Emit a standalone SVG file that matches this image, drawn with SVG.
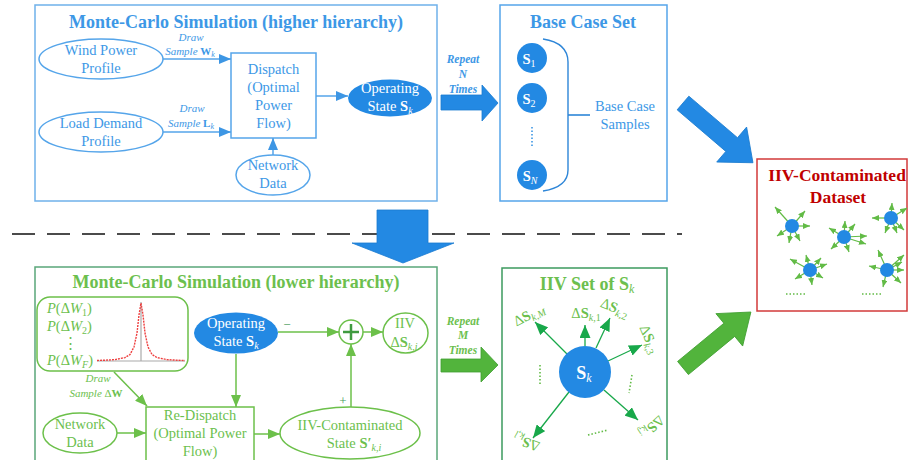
<svg xmlns="http://www.w3.org/2000/svg" width="912" height="460" viewBox="0 0 912 460">
<style>
text{font-family:"Liberation Serif","Times New Roman",serif;}
.bt{fill:#3d98e6;font-size:14.5px;}
.gt{fill:#6cbf4e;font-size:14.5px;}
.wt{fill:#ffffff;font-size:14.5px;}
.ttl{font-weight:bold;font-size:18px;}
.sm{font-size:11px;font-style:italic;}
.bl{stroke:#55a5ea;stroke-width:1.5;fill:none;}
.gl{stroke:#6cc04a;stroke-width:1.5;fill:none;}
.bnode{fill:#ffffff;stroke:#55a5ea;stroke-width:1.5;}
.gnode{fill:#ffffff;stroke:#6cc04a;stroke-width:1.5;}
.bfill{fill:#2389e3;}
.da{stroke:#18a84a;stroke-width:1.3;fill:none;}
.sa{stroke:#62bb46;stroke-width:1.2;fill:none;}
</style>
<defs>
<marker id="ab" markerWidth="12" markerHeight="10" refX="12" refY="5" orient="auto" markerUnits="userSpaceOnUse"><path d="M0,0 L12,5 L0,10 Z" fill="#3d96e4"/></marker>
<marker id="ag" markerWidth="12" markerHeight="10" refX="12" refY="5" orient="auto" markerUnits="userSpaceOnUse"><path d="M0,0 L12,5 L0,10 Z" fill="#6cc04a"/></marker>
<marker id="ad" markerWidth="13" markerHeight="11" refX="13" refY="5.5" orient="auto" markerUnits="userSpaceOnUse"><path d="M0,0 L13,5.5 L0,11 Z" fill="#18a84a"/></marker>
<marker id="as" markerWidth="7" markerHeight="6" refX="7" refY="3" orient="auto" markerUnits="userSpaceOnUse"><path d="M0,0 L7,3 L0,6 Z" fill="#62bb46"/></marker>
</defs>

<!-- separator -->
<line x1="12" y1="234" x2="682" y2="234" stroke="#111" stroke-width="1.5" stroke-dasharray="23 12"/>

<!-- Upper container -->
<g id="upper-box">
<rect x="35" y="5" width="402" height="196" fill="#fff" stroke="#6fb1ea" stroke-width="1.5"/>
<text class="bt ttl" x="236" y="28" text-anchor="middle">Monte-Carlo Simulation (higher hierarchy)</text>
</g>
<g id="wind">
<ellipse class="bnode" cx="101" cy="59" rx="62" ry="20"/>
<text class="bt" x="101" y="55" text-anchor="middle">Wind Power</text>
<text class="bt" x="101" y="73" text-anchor="middle">Profile</text>
</g>
<g id="load">
<ellipse class="bnode" cx="101" cy="132" rx="62" ry="20"/>
<text class="bt" x="101" y="128" text-anchor="middle">Load Demand</text>
<text class="bt" x="101" y="146" text-anchor="middle">Profile</text>
</g>
<g id="dispatch">
<rect class="bnode" x="231" y="53" width="85" height="85"/>
<text class="bt" x="273.5" y="74" text-anchor="middle">Dispatch</text>
<text class="bt" x="273.5" y="92" text-anchor="middle">(Optimal</text>
<text class="bt" x="273.5" y="110" text-anchor="middle">Power</text>
<text class="bt" x="273.5" y="128" text-anchor="middle">Flow)</text>
</g>
<g id="network-top">
<ellipse class="bnode" cx="273" cy="175" rx="37" ry="20"/>
<text class="bt" x="273" y="170" text-anchor="middle">Network</text>
<text class="bt" x="273" y="188" text-anchor="middle">Data</text>
</g>
<g id="opstate-top">
<ellipse class="bfill" cx="390" cy="98" rx="42" ry="18.5"/>
<text class="wt" x="390" y="93" text-anchor="middle">Operating</text>
<text class="wt" x="390" y="111" text-anchor="middle">State <tspan font-weight="bold">S</tspan><tspan font-style="italic" font-size="10" dy="3">k</tspan></text>
</g>

<!-- Base case set -->
<g id="base-case-set">
<rect x="500" y="5" width="167" height="196" fill="#fff" stroke="#55a5ea" stroke-width="1.5"/>
<text class="bt ttl" x="583" y="28" text-anchor="middle">Base Case Set</text>
<circle class="bfill" cx="532" cy="58" r="15"/>
<text class="wt" x="529" y="64" text-anchor="middle" font-size="15"><tspan font-weight="bold">S</tspan><tspan font-size="10" dy="3">1</tspan></text>
<circle class="bfill" cx="532" cy="98" r="15"/>
<text class="wt" x="529" y="104" text-anchor="middle" font-size="15"><tspan font-weight="bold">S</tspan><tspan font-size="10" dy="3">2</tspan></text>
<line x1="532" y1="127" x2="532" y2="146" stroke="#3d96e4" stroke-width="1.6" stroke-dasharray="1.5 2"/>
<circle class="bfill" cx="532" cy="175" r="15"/>
<text class="wt" x="530" y="181" text-anchor="middle" font-size="15"><tspan font-weight="bold">S</tspan><tspan font-size="10" font-style="italic" dy="3">N</tspan></text>
<path d="M543,39 Q568,43 568,62 L568,170 Q568,187 543,191" fill="none" stroke="#2e86d8" stroke-width="1.4"/>
<line x1="568" y1="115" x2="590" y2="115" stroke="#2e86d8" stroke-width="1.6"/>
<text class="bt" x="625" y="111" text-anchor="middle">Base Case</text>
<text class="bt" x="625" y="129" text-anchor="middle">Samples</text>
</g>

<!-- Dataset -->
<g id="dataset">
<rect x="757" y="159" width="150" height="152" fill="#fff" stroke="#d23a3a" stroke-width="1.5"/>
<text x="837" y="181" text-anchor="middle" font-size="17.5" font-weight="bold" fill="#c00000">IIV-Contaminated</text>
<text x="838" y="203" text-anchor="middle" font-size="17.5" font-weight="bold" fill="#c00000">Dataset</text>
<g marker-end="url(#as)">
<line class="sa" x1="792" y1="226" x2="775" y2="207"/>
<line class="sa" x1="792" y1="226" x2="805" y2="211"/>
<line class="sa" x1="792" y1="226" x2="810" y2="226"/>
<line class="sa" x1="792" y1="226" x2="789" y2="243"/>
<line class="sa" x1="792" y1="226" x2="777" y2="236"/>
<line class="sa" x1="792" y1="226" x2="800" y2="241"/>
<line class="sa" x1="844" y1="237" x2="829" y2="228"/>
<line class="sa" x1="844" y1="237" x2="845" y2="221"/>
<line class="sa" x1="844" y1="237" x2="855" y2="224"/>
<line class="sa" x1="844" y1="237" x2="867" y2="236"/>
<line class="sa" x1="844" y1="237" x2="866" y2="244"/>
<line class="sa" x1="844" y1="237" x2="849" y2="252"/>
<line class="sa" x1="844" y1="237" x2="831" y2="249"/>
<line class="sa" x1="891" y1="218" x2="872" y2="218"/>
<line class="sa" x1="891" y1="218" x2="907" y2="208"/>
<line class="sa" x1="891" y1="218" x2="892" y2="203"/>
<line class="sa" x1="891" y1="218" x2="904" y2="230"/>
<line class="sa" x1="891" y1="218" x2="897" y2="233"/>
<line class="sa" x1="891" y1="218" x2="885" y2="233"/>
<line class="sa" x1="810" y1="270" x2="790" y2="259"/>
<line class="sa" x1="810" y1="270" x2="806" y2="255"/>
<line class="sa" x1="810" y1="270" x2="821" y2="258"/>
<line class="sa" x1="810" y1="270" x2="827" y2="264"/>
<line class="sa" x1="810" y1="270" x2="823" y2="278"/>
<line class="sa" x1="810" y1="270" x2="812" y2="285"/>
<line class="sa" x1="810" y1="270" x2="795" y2="279"/>
<line class="sa" x1="887" y1="270" x2="878" y2="250"/>
<line class="sa" x1="887" y1="270" x2="904" y2="255"/>
<line class="sa" x1="887" y1="270" x2="869" y2="266"/>
<line class="sa" x1="887" y1="270" x2="904" y2="270"/>
<line class="sa" x1="887" y1="270" x2="901" y2="283"/>
<line class="sa" x1="887" y1="270" x2="883" y2="287"/>
<line class="sa" x1="887" y1="270" x2="902" y2="262"/>
</g>
<circle class="bfill" cx="792" cy="226" r="7"/>
<circle class="bfill" cx="844" cy="237" r="7"/>
<circle class="bfill" cx="891" cy="218" r="7"/>
<circle class="bfill" cx="810" cy="270" r="7"/>
<circle class="bfill" cx="887" cy="270" r="7"/>
<line x1="786" y1="294" x2="807" y2="294" stroke="#62bb46" stroke-width="1.5" stroke-dasharray="1.5 2"/>
<line x1="862" y1="294" x2="883" y2="294" stroke="#62bb46" stroke-width="1.5" stroke-dasharray="1.5 2"/>
</g>

<!-- Lower container -->
<g id="lower-box">
<rect x="35" y="267" width="402" height="205" fill="#fff" stroke="#5aa77a" stroke-width="1.5"/>
<text class="gt ttl" x="236" y="288" text-anchor="middle">Monte-Carlo Simulation (lower hierarchy)</text>
</g>
<g id="distribution">
<rect class="gnode" x="37" y="297" width="151" height="74" rx="13"/>
<text class="gt" x="47" y="313" font-style="italic">P<tspan font-style="normal">(Δ</tspan>W<tspan font-style="normal" font-size="10" dy="3">1</tspan><tspan font-style="normal" dy="-3">)</tspan></text>
<text class="gt" x="47" y="331" font-style="italic">P<tspan font-style="normal">(Δ</tspan>W<tspan font-style="normal" font-size="10" dy="3">2</tspan><tspan font-style="normal" dy="-3">)</tspan></text>
<text class="gt" x="70" y="348" text-anchor="middle">⋮</text>
<text class="gt" x="47" y="365" font-style="italic">P<tspan font-style="normal">(Δ</tspan>W<tspan font-size="10" dy="3">F</tspan><tspan font-style="normal" dy="-3">)</tspan></text>
<line x1="97" y1="361" x2="185" y2="361" stroke="#aaa" stroke-width="1.2"/>
<line x1="141" y1="302" x2="141" y2="361" stroke="#aaa" stroke-width="1.2"/>
<path d="M97,360.5 L105,360.2 L115,359.6 L125,357.6 L130,354.5 L134,347 L137,333 L139,315 L141,303 L143,315 L145,333 L148,347 L152,354.5 L157,357.6 L167,359.6 L177,360.2 L185,360.5" fill="none" stroke="#ee4040" stroke-width="1.4" stroke-dasharray="2 1"/>
</g>
<g id="opstate-low">
<ellipse class="bfill" cx="236" cy="333" rx="42" ry="20.5"/>
<text class="wt" x="236" y="328" text-anchor="middle">Operating</text>
<text class="wt" x="236" y="346" text-anchor="middle">State <tspan font-weight="bold">S</tspan><tspan font-style="italic" font-size="10" dy="3">k</tspan></text>
</g>
<g id="sum">
<circle class="gnode" cx="351" cy="332" r="12"/>
<line x1="343" y1="332" x2="359" y2="332" stroke="#3f9a3f" stroke-width="2.5"/>
<line x1="351" y1="324" x2="351" y2="340" stroke="#3f9a3f" stroke-width="2.5"/>
</g>
<g id="iiv">
<ellipse class="gnode" cx="405.5" cy="333" rx="22.5" ry="20"/>
<text class="gt" x="405" y="328" text-anchor="middle">IIV</text>
<text class="gt" x="404" y="347" text-anchor="middle">Δ<tspan font-weight="bold">S</tspan><tspan font-style="italic" font-size="10" dy="3">k,i</tspan></text>
</g>
<g id="redispatch">
<rect class="gnode" x="146" y="407" width="108" height="65"/>
<text class="gt" x="200" y="420" text-anchor="middle">Re-Dispatch</text>
<text class="gt" x="200" y="438" text-anchor="middle">(Optimal Power</text>
<text class="gt" x="200" y="456" text-anchor="middle">Flow)</text>
</g>
<g id="network-low">
<ellipse class="gnode" cx="80" cy="433" rx="37" ry="20"/>
<text class="gt" x="80" y="429" text-anchor="middle">Network</text>
<text class="gt" x="80" y="447" text-anchor="middle">Data</text>
</g>
<g id="contaminated-state">
<ellipse class="gnode" cx="350" cy="433" rx="70" ry="26"/>
<text class="gt" x="350" y="430" text-anchor="middle">IIV-Contaminated</text>
<text class="gt" x="354" y="448" text-anchor="middle">State <tspan font-weight="bold">S′</tspan><tspan font-style="italic" font-size="10" dy="3">k,i</tspan></text>
</g>

<!-- IIV set -->
<g id="iiv-set">
<rect x="502" y="268" width="165" height="205" fill="#fff" stroke="#3d9a5f" stroke-width="1.5"/>
<text class="gt ttl" x="587" y="290" text-anchor="middle">IIV Set of <tspan>S</tspan><tspan font-style="italic" font-weight="normal" font-size="12" dy="3">k</tspan></text>
<g marker-end="url(#ad)">
<line class="da" x1="567" y1="354" x2="535" y2="322"/>
<line class="da" x1="585" y1="346" x2="585" y2="325"/>
<line class="da" x1="596" y1="348" x2="610" y2="318"/>
<line class="da" x1="608" y1="361" x2="642" y2="345"/>
<line class="da" x1="604" y1="390" x2="638" y2="420"/>
<line class="da" x1="569" y1="392" x2="533" y2="438"/>
</g>
<circle class="bfill" cx="585" cy="372" r="26"/>
<text x="584" y="379" text-anchor="middle" fill="#fff" font-size="18" font-weight="bold">S<tspan font-style="italic" font-weight="normal" font-size="12" dy="3">k</tspan></text>
<text class="gt" x="586" y="318" text-anchor="middle">Δ<tspan font-weight="bold">S</tspan><tspan font-style="italic" font-size="10" dy="3">k</tspan><tspan font-size="10">,1</tspan></text>
<g transform="translate(531,319) rotate(-27)"><text class="gt" x="0" y="0" text-anchor="middle">Δ<tspan font-weight="bold">S</tspan><tspan font-style="italic" font-size="10" dy="3">k,M</tspan></text></g>
<g transform="translate(613,312) rotate(22)"><text class="gt" x="0" y="0" text-anchor="middle">Δ<tspan font-weight="bold">S</tspan><tspan font-style="italic" font-size="10" dy="3">k</tspan><tspan font-size="10">,2</tspan></text></g>
<g transform="translate(645,341) rotate(67)"><text class="gt" x="0" y="0" text-anchor="middle">Δ<tspan font-weight="bold">S</tspan><tspan font-style="italic" font-size="10" dy="3">k</tspan><tspan font-size="10">,3</tspan></text></g>
<g transform="translate(649,424) rotate(137)"><text class="gt" x="0" y="0" text-anchor="middle">Δ<tspan font-weight="bold">S</tspan><tspan font-style="italic" font-size="10" dy="3">k,j</tspan></text></g>
<g transform="translate(528,438) rotate(200)"><text class="gt" x="0" y="0" text-anchor="middle">Δ<tspan font-weight="bold">S</tspan><tspan font-style="italic" font-size="10" dy="3">k,l</tspan></text></g>
<line x1="540" y1="365" x2="540" y2="385" stroke="#62bb46" stroke-width="1.6" stroke-dasharray="1.5 2"/>
<line x1="632" y1="375" x2="629" y2="393" stroke="#62bb46" stroke-width="1.6" stroke-dasharray="1.5 2"/>
<line x1="588" y1="435" x2="608" y2="430" stroke="#62bb46" stroke-width="1.6" stroke-dasharray="1.5 2"/>
</g>

<!-- Block arrows -->
<g id="block-arrows">
<polygon points="441,95 482,95 482,85 498,103 482,121 482,110 441,110" fill="#2389e3" stroke="#1a7bd0" stroke-width="0.8"/>
<text x="463" y="63" text-anchor="middle" font-size="11.5" font-weight="bold" font-style="italic" fill="#3d98e6">Repeat</text>
<text x="463" y="78" text-anchor="middle" font-size="11.5" font-weight="bold" font-style="italic" fill="#3d98e6">N</text>
<text x="463" y="93" text-anchor="middle" font-size="11.5" font-weight="bold" font-style="italic" fill="#3d98e6">Times</text>
<polygon points="441,359 481,359 481,347 498,365 481,382 481,372 441,372" fill="#52b43c" stroke="#3f9e30" stroke-width="0.8"/>
<text x="463" y="325" text-anchor="middle" font-size="11.5" font-weight="bold" font-style="italic" fill="#6cbf4e">Repeat</text>
<text x="463" y="339" text-anchor="middle" font-size="11.5" font-weight="bold" font-style="italic" fill="#6cbf4e">M</text>
<text x="463" y="354" text-anchor="middle" font-size="11.5" font-weight="bold" font-style="italic" fill="#6cbf4e">Times</text>
<polygon points="377,210 428,210 428,243 454,243 403,263 352,243 377,243" fill="#2389e3" stroke="#1a7bd0" stroke-width="0.8"/>
<polygon transform="translate(683,103) rotate(40.5)" points="0,-9 64,-9 64,-23 92,0 64,23 64,9 0,9" fill="#2389e3" stroke="#1a7bd0" stroke-width="0.8"/>
<polygon transform="translate(683,368) rotate(-39.5)" points="0,-8.5 60,-8.5 60,-21 88,0 60,21 60,8.5 0,8.5" fill="#52b43c" stroke="#3f9e30" stroke-width="0.8"/>
</g>

<!-- Connectors -->
<g id="connectors">
<line class="bl" x1="163" y1="59" x2="231" y2="59" marker-end="url(#ab)"/>
<line class="bl" x1="163" y1="132" x2="231" y2="132" marker-end="url(#ab)"/>
<line class="bl" x1="316" y1="96" x2="348" y2="96" marker-end="url(#ab)"/>
<line class="bl" x1="273" y1="155" x2="273" y2="138" marker-end="url(#ab)"/>
<text class="bt sm" x="191" y="41" text-anchor="middle">Draw</text>
<text class="bt sm" x="190" y="55" text-anchor="middle">Sample <tspan font-style="normal" font-weight="bold">W</tspan><tspan font-size="8" dy="2">k</tspan></text>
<text class="bt sm" x="192" y="112" text-anchor="middle">Draw</text>
<text class="bt sm" x="191" y="127" text-anchor="middle">Sample <tspan font-style="normal" font-weight="bold">L</tspan><tspan font-size="8" dy="2">k</tspan></text>

<line class="gl" x1="114" y1="372" x2="147" y2="406" marker-end="url(#ag)"/>
<text class="gt sm" x="98" y="382" text-anchor="middle">Draw</text>
<text class="gt sm" x="96" y="397" text-anchor="middle">Sample <tspan font-style="normal">Δ</tspan><tspan font-style="normal" font-weight="bold">W</tspan></text>
<line class="gl" x1="117" y1="433" x2="146" y2="433" marker-end="url(#ag)"/>
<line class="gl" x1="236" y1="354" x2="236" y2="407" marker-end="url(#ag)"/>
<line class="gl" x1="278" y1="332" x2="339" y2="332" marker-end="url(#ag)"/>
<text x="287" y="329" text-anchor="middle" font-size="13" fill="#3f9a5a">−</text>
<line class="gl" x1="363" y1="332" x2="383" y2="332" marker-end="url(#ag)"/>
<line class="gl" x1="254" y1="434" x2="280" y2="434" marker-end="url(#ag)"/>
<line class="gl" x1="351" y1="407" x2="351" y2="344" marker-end="url(#ag)"/>
<text x="343" y="405" text-anchor="middle" font-size="13" fill="#3f9a5a">+</text>
</g>
</svg>
